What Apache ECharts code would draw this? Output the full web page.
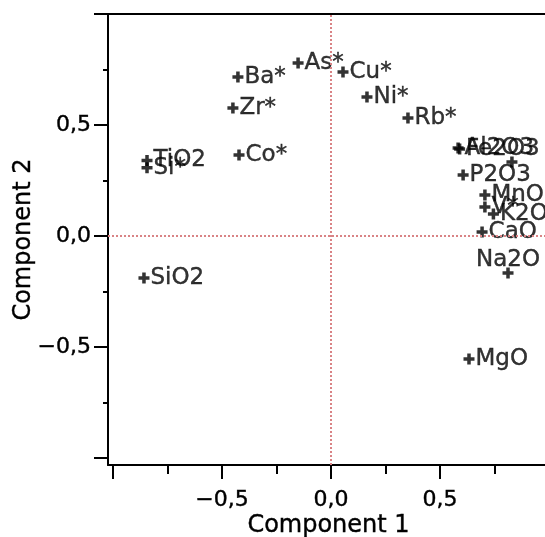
<!DOCTYPE html>
<html>
<head>
<meta charset="utf-8">
<title>Component plot</title>
<script src="https://cdn.jsdelivr.net/npm/echarts@6/dist/echarts.min.js"></script>
<style>
  html, body { margin: 0; padding: 0; background: #fff; }
  #chart { width: 545px; height: 537px; }
</style>
</head>
<body>
<div id="chart"></div>
<script>
// variable names and loadings
var names = ['As*', 'Ba*', 'Zr*', 'Co*', 'TiO2', 'Si*', 'SiO2', 'Cu*', 'Ni*', 'Rb*',
  'Al2O3', 'Fe2O3', '', 'P2O3', 'MnO', 'V*', 'K2O', 'CaO', 'Na2O', 'MgO']
var comp1 = [-0.151, -0.427, -0.450, -0.422, -0.844, -0.844, -0.858, 0.055, 0.165, 0.353,
  0.583, 0.590, 0.830, 0.606, 0.706, 0.706, 0.745, 0.693, 0.812, 0.633]
var comp2 = [0.779, 0.716, 0.577, 0.365, 0.340, 0.307, -0.189, 0.739, 0.626, 0.532,
  0.396, 0.392, 0.333, 0.275, 0.185, 0.131, 0.099, 0.018, -0.167, -0.554]

// axis ticks and labels
var majorTicks = [-1, -0.5, 0, 0.5, 1]
var minorTicks = [-0.75, -0.25, 0.25, 0.75]
var tickLabels = [-0.5, 0, 0.5]

var FONT = 'DejaVu Sans'
var plus = 'path://M3.4,0H6.6V3.4H10V6.6H6.6V10H3.4V6.6H0V3.4H3.4Z'

function fmt (v) {
  var s = Math.abs(v).toFixed(1).replace('.', ',')
  return v < 0 ? '\u2212' + s : s
}

var points = names.map(function (n, i) {
  var item = { name: n, value: [comp1[i], comp2[i]] }
  // Na2O label sits above its marker in the original
  if (n === 'Na2O') item.label = { position: 'top', distance: -4 }
  return item
})

var chart = echarts.init(document.getElementById('chart'))

var axisLine = { show: true, onZero: false, lineStyle: { color: '#000', width: 2 } }
var noLine = { show: false, onZero: false }
// slightly heavier text, like the original
var txt = { fontFamily: FONT, color: '#000', textBorderColor: '#000', textBorderWidth: 0.4 }

chart.setOption({
  animation: false,
  grid: { left: 108, right: -4, top: 14, bottom: 72, outerBoundsMode: 'none', containLabel: false },
  xAxis: [
    {
      type: 'value', min: -1.023, max: 1.0, position: 'bottom',
      axisLine: axisLine,
      axisTick: { show: true, customValues: majorTicks, length: 14, lineStyle: { color: '#000', width: 2 } },
      axisLabel: Object.assign({ customValues: tickLabels, formatter: fmt, margin: 24, fontSize: 22 }, txt),
      splitLine: { show: false },
      name: 'Component 1', nameLocation: 'middle', nameGap: 49, nameMoveOverlap: false,
      nameTextStyle: Object.assign({ fontSize: 24 }, txt)
    },
    {
      type: 'value', min: -1.023, max: 1.0, position: 'bottom',
      axisLine: noLine,
      axisTick: { show: true, customValues: minorTicks, length: 9, lineStyle: { color: '#000', width: 2 } },
      axisLabel: { show: false },
      splitLine: { show: false }
    },
    {
      type: 'value', min: -1.023, max: 1.0, position: 'top',
      axisLine: axisLine,
      axisTick: { show: false },
      axisLabel: { show: false },
      splitLine: { show: false }
    }
  ],
  yAxis: [
    {
      type: 'value', min: -1.0315, max: 1.0, position: 'left',
      axisLine: axisLine,
      axisTick: { show: true, customValues: majorTicks, length: 14, lineStyle: { color: '#000', width: 2 } },
      axisLabel: Object.assign({ customValues: tickLabels, formatter: fmt, margin: 17, fontSize: 22 }, txt),
      splitLine: { show: false },
      name: 'Component 2', nameLocation: 'middle', nameGap: 72, nameMoveOverlap: false,
      nameTextStyle: Object.assign({ fontSize: 24 }, txt)
    },
    {
      type: 'value', min: -1.0315, max: 1.0, position: 'left',
      axisLine: noLine,
      axisTick: { show: true, customValues: minorTicks, length: 5, lineStyle: { color: '#000', width: 2 } },
      axisLabel: { show: false },
      splitLine: { show: false }
    }
  ],
  series: [
    {
      type: 'scatter',
      xAxisIndex: 0,
      yAxisIndex: 0,
      symbol: plus,
      symbolSize: 11,
      itemStyle: { color: '#000' },
      label: Object.assign({ show: true, position: 'right', distance: 1, formatter: '{b}', fontSize: 23 }, txt),
      data: points,
      markLine: {
        silent: true,
        symbol: 'none',
        label: { show: false },
        lineStyle: { type: 'dotted', color: '#d98385', width: 2 },
        data: [{ xAxis: 0 }, { yAxis: 0 }]
      }
    }
  ]
})
</script>
</body>
</html>
